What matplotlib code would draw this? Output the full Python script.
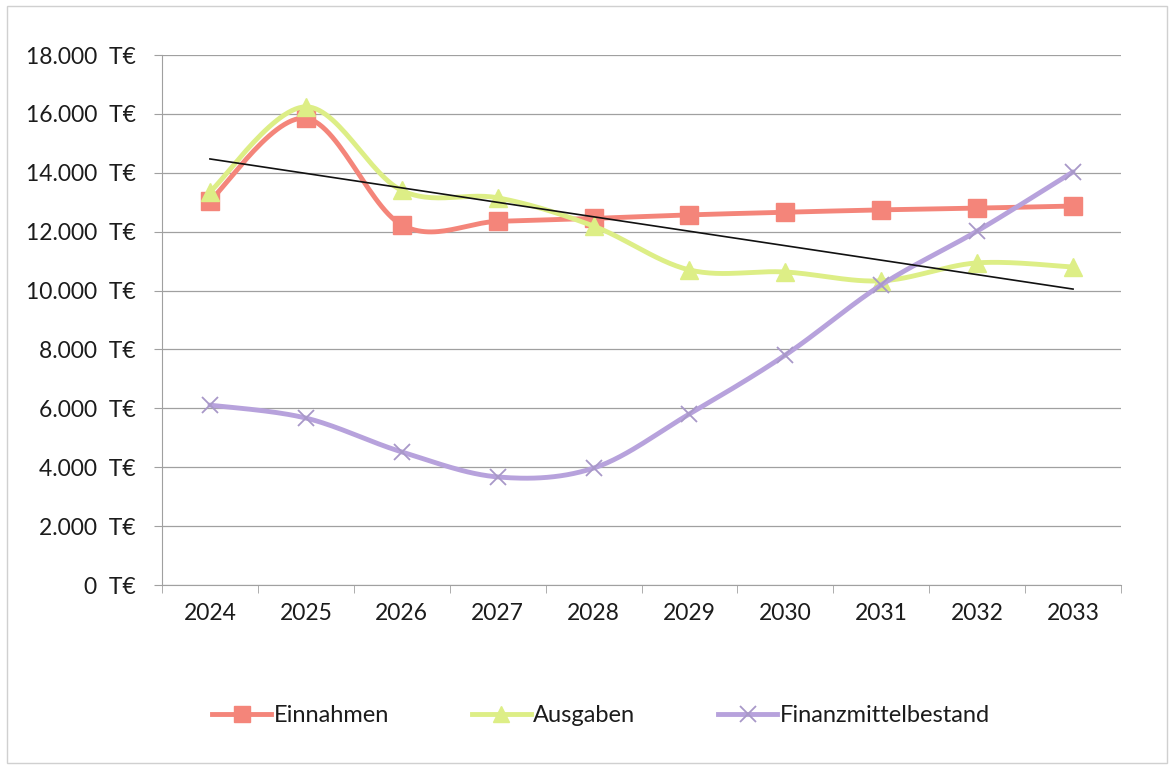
import numpy as np
import matplotlib
matplotlib.use("Agg")
import matplotlib.pyplot as plt
from matplotlib.ticker import FixedLocator, NullFormatter
from matplotlib.patches import Rectangle
from matplotlib.lines import Line2D

years = ["2024", "2025", "2026", "2027", "2028", "2029", "2030", "2031", "2032", "2033"]
einnahmen = [13050, 15850, 12230, 12350, 12450, 12570, 12660, 12740, 12800, 12870]
ausgaben = [13350, 16240, 13400, 13150, 12190, 10700, 10630, 10330, 10940, 10800]
finanz = [6110, 5670, 4520, 3670, 3970, 5810, 7810, 10190, 12020, 14030]
trend = [14470, 10050]  # linear trend line, start (2024) and end (2033)
yticks = list(range(0, 18001, 2000))
ytick_labels = ["{:,}  T€".format(v).replace(",", ".") for v in yticks]

c_ein = "#F4857A"
c_aus = "#DDEE86"
c_fin = "#B7A2DC"
txt = "#1c1c1c"

plt.rcParams['font.family'] = ['Lato', 'DejaVu Sans']


def smooth(xs, ys, n=30):
    # Excel-style smoothed line: cubic Bezier with Catmull-Rom control points
    xs = np.asarray(xs, float); ys = np.asarray(ys, float)
    px, py = [], []
    for i in range(len(xs) - 1):
        x0, y0 = (xs[i - 1], ys[i - 1]) if i > 0 else (xs[i], ys[i])
        x1, y1 = xs[i], ys[i]
        x2, y2 = xs[i + 1], ys[i + 1]
        x3, y3 = (xs[i + 2], ys[i + 2]) if i + 2 < len(xs) else (xs[i + 1], ys[i + 1])
        c1x, c1y = x1 + (x2 - x0) / 6, y1 + (y2 - y0) / 6
        c2x, c2y = x2 - (x3 - x1) / 6, y2 - (y3 - y1) / 6
        t = np.linspace(0, 1, n)
        bx = (1 - t) ** 3 * x1 + 3 * (1 - t) ** 2 * t * c1x + 3 * (1 - t) * t ** 2 * c2x + t ** 3 * x2
        by = (1 - t) ** 3 * y1 + 3 * (1 - t) ** 2 * t * c1y + 3 * (1 - t) * t ** 2 * c2y + t ** 3 * y2
        px.extend(bx); py.extend(by)
    return np.array(px), np.array(py)


fig = plt.figure(figsize=(11.74, 7.68), dpi=100)
fig.patches.append(Rectangle((0.006, 0.006), 0.988, 0.986, transform=fig.transFigure,
                             fill=False, edgecolor="#d0d0d0", linewidth=1.0))
ax = fig.add_axes([162 / 1174, 1 - 585 / 768, (1121 - 162) / 1174, (585 - 55) / 768])

x = np.arange(len(years))

for i, (data, col, mk, ms) in enumerate([
        (einnahmen, c_ein, "s", 13),
        (ausgaben, c_aus, "^", 13),
        (finanz, c_fin, "x", 12)]):
    sx, sy = smooth(x, data)
    ax.plot(sx, sy, color=col, lw=3.5, zorder=3 + i, solid_capstyle="round")
    if mk == "x":
        ax.plot(x, data, ls="none", marker=mk, ms=ms, mew=1.3, color="#A898C8", zorder=3 + i)
    else:
        ax.plot(x, data, ls="none", marker=mk, ms=ms, color=col, zorder=3 + i)

ax.plot([x[0], x[-1]], trend, color="#111111", lw=1.2, zorder=7)

ax.set_xlim(-0.5, len(years) - 0.5)
ax.set_ylim(0, 18000)
ax.set_yticks(yticks)
ax.set_yticklabels(ytick_labels, fontsize=16.5, color=txt)
ax.yaxis.grid(True, color="#a0a0a0", lw=0.9)
ax.set_axisbelow(True)

ax.set_xticks(x)
ax.set_xticklabels(years, fontsize=16.5, color=txt)
ax.xaxis.set_minor_locator(FixedLocator(np.arange(-0.5, len(years), 1)))
ax.xaxis.set_minor_formatter(NullFormatter())
ax.tick_params(axis="x", which="major", length=0, pad=13)
ax.tick_params(axis="x", which="minor", length=6, color="#a0a0a0")
ax.tick_params(axis="y", length=6, color="#a0a0a0", pad=13)

for s in ["top", "right"]:
    ax.spines[s].set_visible(False)
ax.spines["left"].set_color("#a0a0a0")
ax.spines["bottom"].set_color("#a0a0a0")

handles = [
    Line2D([], [], color=c_ein, lw=3.5, marker="s", ms=12),
    Line2D([], [], color=c_aus, lw=3.5, marker="^", ms=12),
    Line2D([], [], color=c_fin, lw=3.5, marker="x", ms=11, mec="#A898C8", mew=1.3),
]
fig.legend(handles, ["Einnahmen", "Ausgaben", "Finanzmittelbestand"], loc="center",
           bbox_to_anchor=(601 / 1174, 1 - 716 / 768), ncol=3, frameon=False,
           fontsize=17, labelcolor=txt, handlelength=2.5, handletextpad=0.1, columnspacing=3.5)

fig.savefig("out.png", dpi=100, facecolor="white")
